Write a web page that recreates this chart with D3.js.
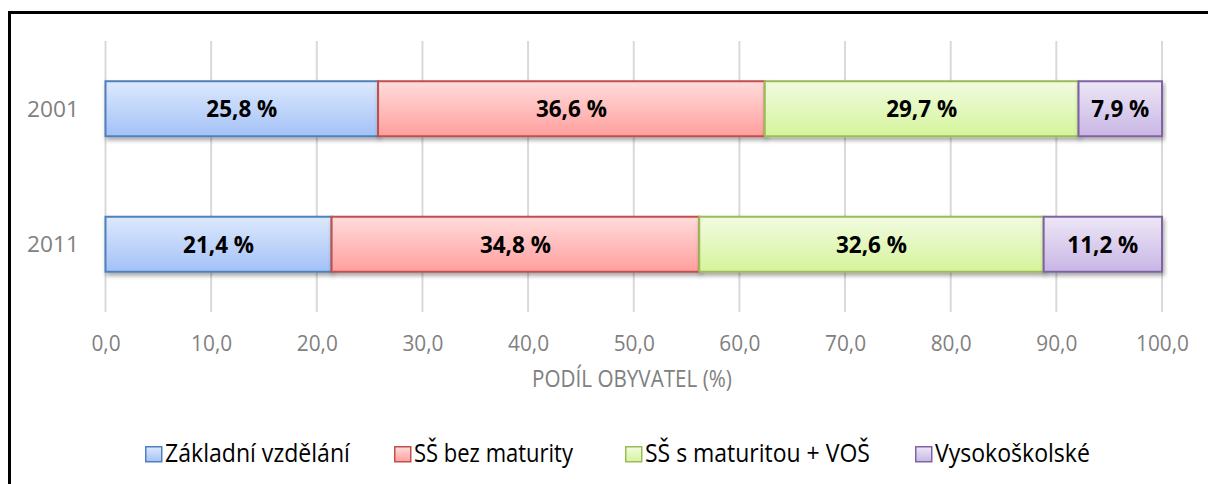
<!DOCTYPE html>
<html>
<head>
<meta charset="utf-8">
<script src="https://cdn.jsdelivr.net/npm/d3@7"></script>
<style>
  html, body { margin: 0; padding: 0; background: #fff; }
  svg { display: block; }
  text { font-family: "Open Sans", Lato, sans-serif; }
</style>
</head>
<body>
<svg id="chart" width="1208" height="484"></svg>
<script>
const years = ["2001", "2011"];
const seriesNames = ["Základní vzdělání", "SŠ bez maturity", "SŠ s maturitou + VOŠ", "Vysokoškolské"];
const zakladni = [25.8, 21.4];
const bezMaturity = [36.6, 34.8];
const sMaturitou = [29.7, 32.6];
const vysokoskolske = [7.9, 11.2];
const tickValues = [0, 10, 20, 30, 40, 50, 60, 70, 80, 90, 100];
const axisTitle = "PODÍL OBYVATEL (%)";

const seriesValues = [zakladni, bezMaturity, sMaturitou, vysokoskolske];
const fillTop = ["#dde9fd", "#ffdcdc", "#f1fbe0", "#ede7f6"];
const fillBot = ["#a3c1f7", "#ff9f9d", "#d5f49b", "#c8b6e5"];
const strokes = ["#4f81bd", "#c0504d", "#9bbb59", "#8064a2"];
const gray = "#808080";

const svg = d3.select("#chart");
const W = 1208, H = 484;

// horizontal squeeze so that a reference text gets the given width
function squeezeFactor(sel, target) {
  const w = sel.node().getComputedTextLength();
  return w > 0 ? target / w : 1;
}

const rows = years.map((y, i) => {
  const r = { year: y };
  seriesNames.forEach((s, k) => r[s] = seriesValues[k][i]);
  return r;
});
const stacked = d3.stack().keys(seriesNames)(rows);

const x = d3.scaleLinear().domain([0, 100]).range([105.5, 1162]);
const y = d3.scaleBand().domain(years).range([41, 312]).paddingInner(0.594).paddingOuter(0.297);

// defs
const defs = svg.append("defs");
seriesNames.forEach((s, k) => {
  const g = defs.append("linearGradient").attr("id", "grad" + k)
    .attr("x1", 0).attr("y1", 0).attr("x2", 0).attr("y2", 1);
  g.append("stop").attr("offset", "0%").attr("stop-color", fillTop[k]);
  g.append("stop").attr("offset", "100%").attr("stop-color", fillBot[k]);
});
const f = defs.append("filter").attr("id", "shadow")
  .attr("x", "-5%").attr("y", "-20%").attr("width", "110%").attr("height", "160%");
f.append("feDropShadow").attr("dx", 1.5).attr("dy", 3).attr("stdDeviation", 2)
  .attr("flood-color", "#000").attr("flood-opacity", 0.35);

// frame
svg.append("rect").attr("x", 9.5).attr("y", 12.5).attr("width", W + 20).attr("height", H + 20)
  .attr("fill", "none").attr("stroke", "#000").attr("stroke-width", 3);

// gridlines
svg.append("g").selectAll("line").data(tickValues).join("line")
  .attr("x1", d => x(d)).attr("x2", d => x(d))
  .attr("y1", 41).attr("y2", 312)
  .attr("stroke", "#d9d9d9").attr("stroke-width", 2);

// x axis labels
const xAxis = d3.axisBottom(x).tickValues(tickValues).tickSize(0).tickPadding(0)
  .tickFormat(d => d3.format(".1f")(d).replace(".", ","));
const gx = svg.append("g").attr("transform", "translate(0,350.5)").call(xAxis);
gx.select(".domain").remove();
const xt = gx.selectAll("text").attr("dy", null).attr("y", 0)
  .attr("font-size", 22).attr("fill", gray).attr("font-family", "'Open Sans', sans-serif");
const kx = squeezeFactor(xt.filter(d => d === 100), 53);
xt.attr("transform", `scale(${kx},1)`);

// y axis labels
const yAxis = d3.axisLeft(y).tickSize(0).tickPadding(0);
const gy = svg.append("g").attr("transform", "translate(79,0)").call(yAxis);
gy.select(".domain").remove();
gy.selectAll(".tick").attr("transform", d => `translate(0,${y(d) + y.bandwidth() / 2 + 8})`);
const yt = gy.selectAll("text").attr("dy", null).attr("x", 0).attr("y", 0)
  .attr("font-size", 22).attr("fill", gray).attr("font-family", "'Open Sans', sans-serif");
const ky = squeezeFactor(yt.filter((d, i) => i === 0), 52);
yt.attr("transform", `scale(${ky},1)`);

// bars
const layers = svg.append("g").selectAll("g").data(stacked).join("g");
layers.each(function(layer, k) {
  d3.select(this).selectAll("rect").data(layer).join("rect")
    .attr("x", d => x(d[0])).attr("width", d => x(d[1]) - x(d[0]))
    .attr("y", d => y(d.data.year)).attr("height", y.bandwidth())
    .attr("fill", "url(#grad" + k + ")")
    .attr("stroke", strokes[k]).attr("stroke-width", 2)
    .attr("filter", "url(#shadow)");
});
const labelGroups = [];
layers.each(function(layer, k) {
  const t = d3.select(this).selectAll("g.lbl").data(layer).join("g").attr("class", "lbl")
    .attr("transform", d => `translate(${(x(d[0]) + x(d[1])) / 2},${y(d.data.year) + y.bandwidth() / 2 + 8.5})`)
    .append("text")
    .attr("text-anchor", "middle")
    .attr("font-size", 23).attr("font-weight", "bold").attr("fill", "#000")
    .text(d => d3.format(".1f")(d[1] - d[0]).replace(".", ",") + " %");
  labelGroups.push(t);
});
const kb = squeezeFactor(labelGroups[0].filter((d, i) => i === 0), 71);
labelGroups.forEach(t => t.attr("transform", `scale(${kb},1)`));

// axis title
const titleG = svg.append("g").attr("transform", "translate(632,386.5)");
const title = titleG.append("text").attr("text-anchor", "middle")
  .attr("font-size", 23).attr("fill", gray).text(axisTitle);
title.attr("transform", `scale(${squeezeFactor(title, 200)},1)`);

// legend
const legendX = [145, 394, 625, 915];
const legendW = [185, 159, 225, 155];
const lg = svg.append("g").selectAll("g").data(seriesNames).join("g")
  .attr("transform", (d, i) => `translate(${legendX[i]},446)`);
lg.append("rect").attr("x", 0.75).attr("y", 0.75).attr("width", 16).attr("height", 15)
  .attr("fill", (d, i) => `url(#grad${i})`).attr("stroke", (d, i) => strokes[i]).attr("stroke-width", 1.5);
lg.each(function(d, i) {
  const tg = d3.select(this).append("g").attr("transform", "translate(20,15.7)");
  const t = tg.append("text").attr("font-size", 25).attr("fill", "#000").text(d);
  t.attr("transform", `scale(${squeezeFactor(t, legendW[i])},1)`);
});
</script>
</body>
</html>
